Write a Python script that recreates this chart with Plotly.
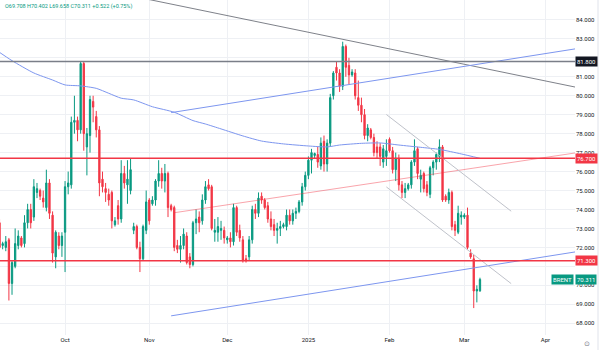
import pandas as pd
import plotly.graph_objects as go

# ---------------- data ----------------
holidays = ["2024-12-25", "2025-01-01"]
# daily bars (Sun-Fri, Saturdays and two holidays absent)
dates = [d for d in pd.date_range("2024-09-05", "2025-03-07", freq="D")
         if d.weekday() != 5 and d.strftime("%Y-%m-%d") not in holidays]

opens = [72.7, 73.3, 72.1, 72.0, 72.4, 70.1, 71.0, 72.1, 72.5, 72.2,
         73.3, 74.0, 73.6, 74.9, 75.0, 74.6, 74.1, 75.4, 73.7, 71.5,
         72.6, 72.1, 72.8, 75.2, 75.3, 78.6, 78.7, 78.2, 81.7, 77.3,
         77.9, 79.7, 78.9, 78.2, 75.6, 75.1, 74.8, 74.9, 73.2, 74.2,
         73.5, 75.9, 75.3, 75.0, 72.9, 73.1, 72.0, 71.4, 72.9, 74.5,
         74.3, 74.5, 75.5, 75.9, 75.5, 75.9, 74.2, 74.1, 72.1, 71.9,
         72.1, 72.6, 71.5, 71.1, 73.3, 73.6, 73.4, 74.5, 75.3, 75.2,
         72.8, 72.8, 72.9, 72.9, 72.4, 72.5, 72.3, 74.1, 72.9, 72.4,
         71.4, 71.5, 72.4, 74.0, 73.8, 74.7, 74.5, 74.2, 73.5, 73.2,
         72.9, 73.0, 73.1, 73.1, 73.7, 73.4, 73.8, 73.9, 74.4, 75.2,
         75.8, 76.6, 76.85, 76.9, 76.3, 77.6, 76.4, 77.5, 80.0, 81.5,
         81.2, 80.5, 82.6, 81.6, 81.1, 81.2, 79.9, 79.5, 79.0, 77.9,
         78.2, 77.8, 77.3, 77.3, 76.5, 76.8, 77.7, 77.1, 76.1, 76.7,
         75.3, 74.9, 75.1, 75.3, 76.5, 77.2, 75.6, 75.9, 75.3, 74.8,
         76.2, 76.5, 76.8, 77.3, 74.7, 74.5, 74.9, 73.2, 72.8, 73.6,
         73.6, 73.7, 71.7, 71.4, 69.7, 69.708]
highs = [73.4, 73.5, 72.3, 72.6, 72.5, 71.3, 73.0, 72.9, 72.6, 73.7,
         74.3, 74.3, 75.6, 75.4, 75.1, 75.0, 76.1, 75.6, 73.9, 72.9,
         72.8, 72.8, 75.5, 76.0, 78.9, 80.0, 78.9, 81.8, 81.8, 78.3,
         80.0, 80.0, 79.2, 78.4, 76.0, 75.4, 75.1, 75.0, 73.6, 74.5,
         76.6, 76.3, 76.6, 76.7, 73.3, 73.2, 72.3, 73.2, 75.0, 74.6,
         74.7, 75.6, 76.6, 76.2, 76.4, 76.0, 74.3, 74.2, 72.4, 72.6,
         73.0, 72.8, 71.7, 73.4, 74.0, 73.9, 74.8, 75.5, 75.6, 75.3,
         73.5, 73.6, 73.4, 73.1, 72.6, 72.8, 74.3, 74.2, 73.2, 72.6,
         71.6, 72.6, 74.2, 74.3, 74.9, 74.9, 74.6, 74.4, 73.9, 73.5,
         73.3, 73.4, 73.3, 74.0, 74.0, 74.0, 74.1, 74.5, 75.4, 76.0,
         76.8, 77.2, 77.0, 77.3, 77.8, 77.9, 77.7, 80.1, 81.3, 81.8,
         81.4, 82.85, 82.7, 82.0, 81.4, 81.4, 80.8, 79.9, 79.3, 78.5,
         78.3, 78.0, 77.6, 77.5, 77.4, 77.7, 77.8, 77.3, 77.0, 76.9,
         75.5, 75.4, 75.4, 76.6, 77.7, 77.3, 76.1, 76.0, 75.5, 76.3,
         76.6, 77.0, 77.7, 77.4, 74.8, 75.1, 75.0, 73.4, 74.2, 73.9,
         73.8, 74.1, 71.9, 71.6, 70.0, 70.402]
lows = [72.4, 71.9, 71.9, 71.8, 69.2, 69.5, 70.9, 71.9, 72.0, 72.0,
        73.0, 73.0, 73.4, 74.6, 74.5, 74.1, 73.9, 73.5, 71.2, 70.9,
        71.9, 71.5, 70.7, 74.8, 75.1, 78.0, 77.6, 78.0, 77.1, 75.8,
        77.0, 78.6, 77.8, 74.7, 74.9, 74.4, 74.2, 73.0, 73.1, 73.2,
        73.3, 75.1, 74.3, 74.8, 72.7, 71.9, 70.7, 71.3, 72.7, 73.2,
        74.2, 74.2, 75.2, 75.1, 74.9, 73.6, 73.9, 71.8, 71.7, 71.2,
        71.9, 71.1, 70.9, 71.0, 72.7, 72.8, 73.2, 74.3, 75.0, 72.9,
        72.3, 72.3, 72.4, 72.2, 72.2, 72.0, 72.1, 72.6, 72.3, 71.2,
        71.2, 71.3, 72.2, 73.5, 73.6, 74.3, 74.0, 73.3, 72.9, 72.6,
        72.2, 72.6, 73.0, 72.9, 73.2, 73.2, 73.5, 73.8, 74.2, 75.0,
        75.6, 75.9, 76.7, 76.2, 76.1, 76.0, 76.0, 77.3, 79.8, 80.8,
        80.2, 80.3, 81.0, 80.6, 81.0, 79.8, 79.2, 78.6, 77.7, 77.6,
        77.7, 76.8, 76.7, 76.3, 76.2, 76.3, 77.0, 75.9, 75.5, 75.0,
        74.6, 74.6, 75.0, 75.1, 76.3, 75.6, 74.9, 74.9, 74.7, 74.6,
        75.8, 76.1, 76.5, 74.4, 74.4, 74.3, 72.9, 72.6, 72.7, 73.2,
        73.5, 71.9, 71.4, 68.8, 69.1, 69.658]
closes = [73.2, 72.0, 72.2, 72.3, 70.1, 71.2, 72.2, 72.6, 72.1, 73.3,
          74.0, 73.3, 75.2, 75.1, 74.7, 74.4, 75.4, 73.8, 71.7, 72.8,
          72.1, 72.6, 75.2, 75.4, 78.6, 78.7, 78.2, 81.7, 78.0, 78.0,
          79.8, 79.4, 78.2, 75.4, 75.2, 74.9, 74.5, 73.4, 73.4, 73.5,
          75.9, 75.4, 75.6, 76.1, 73.1, 72.0, 71.4, 73.1, 74.4, 73.4,
          74.5, 75.5, 75.9, 75.5, 75.9, 74.1, 74.0, 72.0, 71.9, 72.1,
          72.7, 71.2, 71.1, 73.3, 73.5, 73.3, 74.5, 75.2, 75.1, 73.0,
          72.9, 73.1, 73.0, 72.5, 72.5, 72.3, 74.1, 72.8, 72.5, 71.3,
          71.3, 72.4, 74.0, 73.8, 74.6, 74.5, 74.1, 73.5, 73.1, 72.9,
          73.0, 73.1, 73.2, 73.7, 73.4, 73.8, 73.9, 74.4, 75.2, 75.8,
          76.6, 77.0, 76.95, 76.5, 77.5, 76.4, 77.5, 79.9, 81.2, 81.2,
          80.5, 82.6, 81.5, 81.1, 81.25, 80.0, 79.5, 79.0, 77.9, 78.3,
          77.8, 77.0, 77.0, 76.8, 77.2, 77.1, 77.1, 76.1, 76.7, 75.3,
          74.9, 75.1, 75.3, 76.5, 77.1, 75.9, 75.8, 75.1, 74.9, 76.2,
          76.5, 76.9, 77.3, 74.5, 74.5, 74.9, 73.1, 72.9, 73.8, 73.7,
          73.7, 72.0, 71.5, 69.7, 69.789, 70.311]

# moving average readings
ma_dates = ["2024-09-05", "2024-09-11", "2024-09-19", "2024-09-26", "2024-10-01",
            "2024-10-07", "2024-10-13", "2024-10-17", "2024-10-22", "2024-10-27",
            "2024-11-03", "2024-11-11", "2024-11-18", "2024-11-22", "2024-11-28",
            "2024-12-06", "2024-12-13", "2024-12-22", "2025-01-02", "2025-01-09",
            "2025-01-14", "2025-01-22", "2025-01-29", "2025-02-05", "2025-02-13",
            "2025-02-20", "2025-02-28", "2025-03-07"]
ma_values = [82.40, 81.85, 81.20, 80.83, 80.57, 80.52, 80.39, 80.13, 79.87, 79.78,
             79.42, 79.13, 78.69, 78.51, 78.25, 77.88, 77.61, 77.46, 77.35, 77.30,
             77.40, 77.49, 77.51, 77.40, 77.28, 77.17, 76.93, 76.70]

# horizontal levels
level_values = [81.8, 76.7, 71.3]
level_labels = ["81.800", "76.700", "71.300"]

# trend lines (end points)
resist_x = ["2024-10-30 12:00", "2025-04-11 23:00"]
resist_y = [85.14, 80.46]
chan_x = ["2024-11-10 12:00", "2025-04-11 23:00"]
chan_up_y = [79.11, 82.47]
chan_lo_y = [68.39, 71.76]
pink_x = ["2024-11-11 12:00", "2025-04-11 23:00"]
pink_y = [73.83, 76.98]
gray_x = ["2025-01-31 12:00", "2025-03-19 12:00"]
gray_up_y = [79.01, 73.91]
gray_lo_y = [75.19, 70.09]

# price axis ticks (labels under the 81.800 / 71.300 tags are hidden, as in the source)
price_ticks = list(range(68, 86))
price_tick_text = ["" if v in (82, 71) else f"{v:.3f}" for v in price_ticks]

tick_dates = ["2024-10-01", "2024-11-01", "2024-12-01", "2025-01-02",
              "2025-02-02", "2025-03-02", "2025-04-01"]
tick_labels = ["Oct", "Nov", "Dec", "2025", "Feb", "Mar", "Apr"]

last_price = 70.311
header = "O69.708 H70.402 L69.658 C70.311 +0.522 (+0.75%)"

# ---------------- styling ----------------
GREEN = "#089981"
RED = "#f23645"
BLUE = "#7d96ef"
noon = pd.Timedelta(hours=12)
xs = [d + noon for d in dates]
ma_x = [pd.Timestamp(d) + noon for d in ma_dates]

fig = go.Figure()
fig.add_trace(go.Candlestick(
    x=xs, open=opens, high=highs, low=lows, close=closes,
    increasing=dict(line=dict(color=GREEN, width=1), fillcolor=GREEN),
    decreasing=dict(line=dict(color=RED, width=1), fillcolor=RED),
    whiskerwidth=0, hoverinfo="skip", showlegend=False))

fig.add_trace(go.Scatter(x=ma_x, y=ma_values, mode="lines",
                         line=dict(color=BLUE, width=1, shape="spline", smoothing=0.6),
                         hoverinfo="skip"))

def seg(xv, yv, color, width):
    fig.add_trace(go.Scatter(x=xv, y=yv, mode="lines",
                             line=dict(color=color, width=width), hoverinfo="skip"))

seg(resist_x, resist_y, "#5d616b", 0.8)
seg(chan_x, chan_up_y, BLUE, 1)
seg(chan_x, chan_lo_y, BLUE, 1)
seg(pink_x, pink_y, "rgba(242,54,69,0.45)", 1)
seg(gray_x, gray_up_y, "#bfc2ca", 1)
seg(gray_x, gray_lo_y, "#bfc2ca", 1)

level_colors = ["#7a7e88", RED, RED]
level_widths = [1.5, 1.6, 1.6]
for v, c, w in zip(level_values, level_colors, level_widths):
    fig.add_shape(type="line", xref="paper", x0=0, x1=1, yref="y", y0=v, y1=v,
                  line=dict(color=c, width=w))

# right border
fig.add_shape(type="line", xref="paper", x0=598 / 575, x1=598 / 575, yref="paper",
              y0=-0.06, y1=1, line=dict(color="#e0e3eb", width=1))

ann = []
tag_bg = ["#131722", RED, RED]
for v, t, bg in zip(level_values, level_labels, tag_bg):
    ann.append(dict(xref="paper", x=1, xanchor="left", xshift=0, yref="y", y=v,
                    yanchor="middle", text=t, showarrow=False, bgcolor=bg,
                    font=dict(color="white", size=6), borderpad=1))
ann.append(dict(xref="paper", x=1, xanchor="left", yref="y", y=last_price,
                yanchor="middle", text=f"{last_price:.3f}", showarrow=False,
                bgcolor=GREEN, font=dict(color="white", size=6), borderpad=1))
ann.append(dict(xref="paper", x=1, xanchor="right", xshift=-1, yref="y", y=last_price,
                yanchor="middle", text="BRENT", showarrow=False,
                bgcolor=GREEN, font=dict(color="white", size=6), borderpad=1))
ann.append(dict(xref="paper", x=0, xanchor="left", xshift=3, yref="paper", y=1,
                yanchor="top", yshift=-1, text=header, showarrow=False,
                font=dict(color=GREEN, size=5.5)))
ann.append(dict(xref="paper", x=1, xanchor="left", xshift=7, yref="paper", y=0,
                yanchor="top", yshift=-3, text="⊙", showarrow=False,
                font=dict(color="#787b86", size=7)))

fig.update_layout(
    width=600, height=350, margin=dict(l=0, r=25, t=0, b=15),
    paper_bgcolor="white", plot_bgcolor="white", showlegend=False,
    font=dict(family="Roboto, sans-serif", size=6, color="#131722"),
    boxgap=0.4, annotations=ann)

fig.update_xaxes(
    type="date", range=["2024-09-06 15:30", "2025-04-11 23:00"],
    rangebreaks=[dict(bounds=["sat", "sun"]), dict(values=holidays)],
    tickvals=[pd.Timestamp(d) + noon for d in tick_dates], ticktext=tick_labels,
    showgrid=True, gridcolor="#eef0f4", gridwidth=1, ticks="", showline=False,
    zeroline=False, rangeslider=dict(visible=False), tickfont=dict(size=6))

fig.update_yaxes(
    side="right", range=[67.38, 85.05], tickvals=price_ticks, ticktext=price_tick_text,
    showgrid=True, gridcolor="#eef0f4", gridwidth=1, ticks="", showline=False,
    zeroline=False, tickfont=dict(size=6))

fig.write_html("out.html")
